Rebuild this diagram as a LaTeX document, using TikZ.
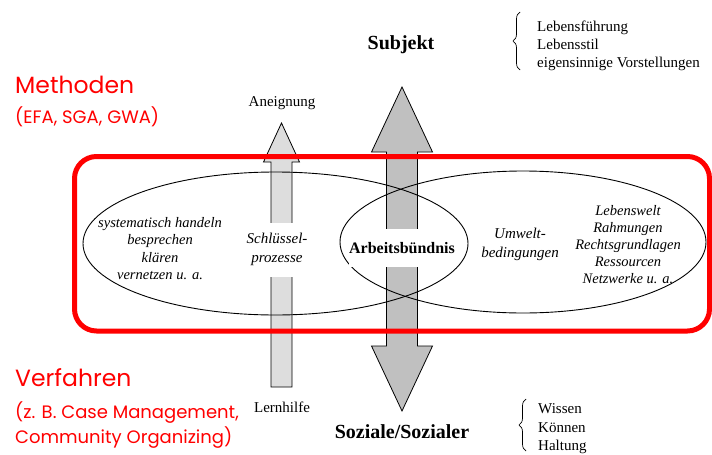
\documentclass[tikz,border=0pt]{standalone}
\usepackage{fontspec}
\setmainfont{Liberation Serif}
\newfontfamily\redfont{Poppins}
\usetikzlibrary{shapes.geometric,decorations.pathreplacing}

\definecolor{bigarrowgray}{RGB}{192,192,192}
\definecolor{smallarrowgray}{RGB}{221,221,221}

\begin{document}
\begin{tikzpicture}[x=1pt,y=-1pt,
  txt/.style={inner sep=0pt, align=center, font=\fontsize{15}{18}\selectfont},
  bigtxt/.style={inner sep=0pt, font=\fontsize{20}{24}\selectfont\bfseries},
  itlist/.style={inner sep=0pt, align=center, font=\fontsize{14.5}{17.6}\selectfont\itshape},
  redtitle/.style={inner sep=0pt, anchor=west, text=red, font=\redfont\fontsize{23.5}{28}\selectfont},
  redsub/.style={inner sep=0pt, anchor=west, align=left, text=red, font=\redfont\fontsize{18}{25}\selectfont},
  arrowshape/.style={draw=black, line width=0.8pt, line join=miter},
  field/.style={draw=black, line width=0.9pt, ellipse, inner sep=0pt},
  bracestyle/.style={draw=black, line width=0.7pt, decorate, decoration={brace, amplitude=7pt}},
  frame/.style={draw=red, line width=5pt, rounded corners=22pt},
  cover/.style={fill=white, inner xsep=2pt, inner ysep=0pt}
]
\useasboundingbox (0,0) rectangle (712,455);

% double-headed arrow between Subjekt and Soziale/Sozialer
\filldraw[arrowshape, fill=bigarrowgray]
  (402,87) -- (432.5,152) -- (417.5,152) -- (417.5,346) -- (432.5,346)
  -- (402,411) -- (371.5,346) -- (386.5,346) -- (386.5,152) -- (371.5,152) -- cycle;

% upward arrow from Lernhilfe to Aneignung
\filldraw[arrowshape, fill=smallarrowgray]
  (281.5,123) -- (299.5,162) -- (292,162) -- (292,387) -- (271,387)
  -- (271,162) -- (263.5,162) -- cycle;

% two overlapping fields
\node[field, minimum width=385pt, minimum height=143pt] (methfield) at (275.5,243.5) {};
\node[field, minimum width=366pt, minimum height=142pt] (envfield) at (523,242) {};

% red frame
\draw[frame] (74.5,156.5) rectangle (709.5,331);

% labels of the arrows
\node[bigtxt] (subj) at (401,45) {Subjekt};
\node[bigtxt] (soz) at (402,432) {Soziale/Sozialer};
\node[txt] (aneig) at (282,103) {Aneignung};
\node[txt] (lern) at (282,407) {Lernhilfe};

\node[cover, itlist, font=\fontsize{15}{19}\selectfont\itshape, minimum height=54pt]
  (schl) at (277,249.5) {Schlüssel-\\prozesse};
\node[cover, inner sep=0pt, font=\fontsize{16}{19}\selectfont\bfseries, minimum height=38pt]
  (arb) at (402,248) {Arbeitsbündnis};

% contents of the fields
\node[itlist] (acts) at (160,248.5)
  {systematisch handeln\\besprechen\\klären\\vernetzen u. a.};
\node[itlist, font=\fontsize{15}{18.5}\selectfont\itshape] (umw) at (520,244.5)
  {Umwelt-\\bedingungen};
\node[itlist, font=\fontsize{14.5}{17.2}\selectfont\itshape] (res) at (628,244.5)
  {Lebenswelt\\Rahmungen\\Rechtsgrundlagen\\Ressourcen\\Netzwerke u. a.};

% side lists with braces
\coordinate (tb1) at (520,70);
\coordinate (tb2) at (520,12);
\draw[bracestyle] (tb1) -- (tb2);
\node[txt, anchor=west, align=left] (subjlist) at (537,45.5)
  {Lebensführung\\Lebensstil\\eigensinnige Vorstellungen};

\coordinate (bb1) at (526,451);
\coordinate (bb2) at (526,399);
\draw[bracestyle] (bb1) -- (bb2);
\node[txt, anchor=west, align=left, font=\fontsize{15}{18.5}\selectfont] (sozlist) at (538,429)
  {Wissen\\Können\\Haltung};

% red headings
\node[redtitle] (meth) at (15,85) {Methoden};
\node[redsub] (methex) at (15,117) {(EFA, SGA, GWA)};
\node[redtitle] (verf) at (15,378) {Verfahren};
\node[redsub] (verfex) at (15,425.5) {(z. B. Case Management,\\Community Organizing)};
\end{tikzpicture}
\end{document}
